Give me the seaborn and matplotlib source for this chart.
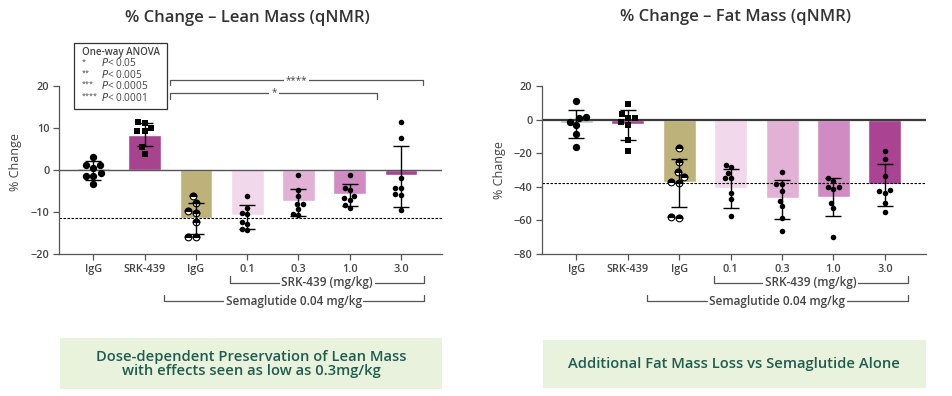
import numpy as np
import pandas as pd
import matplotlib
matplotlib.use("Agg")
import matplotlib.pyplot as plt
import seaborn as sns
from matplotlib.markers import MarkerStyle
from matplotlib.patches import Rectangle
from matplotlib.transforms import blended_transform_factory

# groups (unique keys) and what is printed under them
groups = ["veh_igg", "srk439", "sema_igg", "sema_srk_0.1", "sema_srk_0.3", "sema_srk_1.0", "sema_srk_3.0"]
tick_labels = ["IgG", "SRK-439", "IgG", "0.1", "0.3", "1.0", "3.0"]
bar_colors = ["#b9c9c1", "#a8448f", "#bdb37a", "#f1d9eb", "#e2b1d5", "#d08bc2", "#aa4392"]

# Lean mass, % change
lean_mean = [0.4, 8.4, -11.4, -10.8, -7.3, -5.6, -1.3]
lean_err_hi = [2.2, 11.1, -7.9, -8.4, -4.6, -3.4, 5.6]
lean_err_lo = [-2.4, 5.8, -15.2, -14.1, -11.0, -8.6, -8.8]
lean_pts_veh_igg = [3.1, 1.2, 1.2, 0.5, -0.8, -1.4, -1.4, -3.4]
lean_pts_srk439 = [11.5, 11.1, 9.9, 9.4, 9.3, 5.4, 3.9]
lean_pts_sema_igg = [-6.1, -7.8, -9.8, -10.2, -12.5, -15.9, -15.9]
lean_pts_srk_01 = [-6.2, -9.0, -10.2, -10.5, -12.5, -12.9, -14.1, -14.4]
lean_pts_srk_03 = [-1.1, -4.8, -6.2, -8.1, -8.1, -9.4, -10.5, -10.8]
lean_pts_srk_10 = [-1.1, -4.2, -4.8, -6.2, -6.7, -7.1, -8.4, -9.0]
lean_pts_srk_30 = [11.5, 7.7, -1.8, -4.2, -4.4, -5.7, -5.9, -9.5]
lean_ref = -11.5

# Fat mass, % change
fat_mean = [-1.9, -2.4, -37.4, -40.6, -46.5, -46.0, -38.3]
fat_err_hi = [5.7, 5.6, -23.2, -29.3, -35.7, -34.7, -26.4]
fat_err_lo = [-11.2, -11.9, -51.8, -52.7, -58.9, -57.4, -51.2]
fat_pts_veh_igg = [11.0, 1.8, 0.8, -1.2, -3.4, -8.7, -16.5]
fat_pts_srk439 = [9.5, 3.1, 1.1, 1.0, -1.3, -3.3, -12.2, -18.6]
fat_pts_sema_igg = [-16.9, -25.0, -31.1, -34.0, -37.0, -37.8, -57.8, -58.4]
fat_pts_srk_01 = [-26.9, -28.5, -31.6, -34.6, -34.6, -43.6, -47.5, -57.4]
fat_pts_srk_03 = [-31.0, -38.1, -38.1, -42.7, -48.3, -51.3, -58.3, -66.4]
fat_pts_srk_10 = [-35.0, -36.4, -40.0, -40.0, -41.4, -49.9, -52.9, -69.8]
fat_pts_srk_30 = [-18.6, -23.2, -33.6, -42.0, -42.4, -43.5, -49.4, -54.9]
fat_ref = -37.5

lean_ticks = [-20, -10, 0, 10, 20]
fat_ticks = [-80, -60, -40, -20, 0, 20]

GREY = "#555555"
TXT = "#444444"

sns.set_theme(style="ticks")
plt.rcParams["font.family"] = ["Open Sans", "DejaVu Sans"]


def long_points(point_lists):
    rows = [(g, v) for g, vals in zip(groups, point_lists) for v in vals]
    return pd.DataFrame(rows, columns=["group", "value"])


def draw_panel(ax, means, err_hi, err_lo, point_lists, ref, yticks, zero_lw, zero_color):
    bars = pd.DataFrame({"group": groups, "value": means})
    sns.barplot(data=bars, x="group", y="value", hue="group", order=groups,
                palette=dict(zip(groups, bar_colors)), width=0.64, saturation=1,
                errorbar=None, legend=False, ax=ax, zorder=1)

    pts = long_points(point_lists)
    common = dict(x="group", y="value", order=groups, ax=ax, zorder=3)
    sns.swarmplot(data=pts[pts.group == groups[0]], marker="o", size=5.3,
                  color="black", linewidth=0, **common)
    sns.swarmplot(data=pts[pts.group == groups[1]], marker="s", size=5.0,
                  color="black", linewidth=0, **common)
    # half filled circles for semaglutide + IgG
    sema = pts[pts.group == groups[2]]
    sns.swarmplot(data=sema, marker="o", size=4.8, color="white",
                  edgecolor="black", linewidth=0.8, **common)
    sns.swarmplot(data=sema, marker=MarkerStyle("o", fillstyle="top"), size=4.8,
                  color="black", linewidth=0.8, edgecolor="black", **common)
    sns.swarmplot(data=pts[pts.group.isin(groups[3:])], marker="o", size=4.0,
                  color="black", linewidth=0, **common)

    x = np.arange(len(groups))
    m = np.array(means)
    ax.errorbar(x, m, yerr=[m - np.array(err_lo), np.array(err_hi) - m], fmt="none",
                ecolor="black", elinewidth=1, capsize=5.5, capthick=1, zorder=4)

    ax.axhline(0, color=zero_color, lw=zero_lw, zorder=2)
    ax.axhline(ref, color="black", lw=0.8, ls=(0, (2.2, 1.4)), zorder=2.5)

    ax.set_xlim(-0.67, 6.8)
    ax.set_ylim(yticks[0], yticks[-1])
    ax.set_yticks(yticks)
    ax.set_xticks(x)
    ax.set_xticklabels(tick_labels)
    ax.set_xlabel("")
    ax.set_ylabel("% Change", fontsize=9, color=TXT)
    ax.tick_params(axis="both", labelsize=7.8, labelcolor=TXT, color=GREY,
                   length=4, width=0.9, pad=3)
    for lab in ax.get_xticklabels() + ax.get_yticklabels():
        lab.set_fontweight("semibold")
    sns.despine(ax=ax)
    for s in ["left", "bottom"]:
        ax.spines[s].set_color(GREY)
        ax.spines[s].set_linewidth(0.9)


def bracket_below(ax, x0, x1, y, tick, label):
    tr = blended_transform_factory(ax.transData, ax.transAxes)
    ax.plot([x0, x0, x1, x1], [y + tick, y, y, y + tick], transform=tr,
            clip_on=False, color=GREY, lw=0.9)
    ax.text((x0 + x1) / 2, y, label, transform=tr, ha="center", va="center",
            fontsize=8.5, color=TXT, fontweight="semibold",
            bbox=dict(fc="white", ec="none", pad=1.2))


def sig_bracket(ax, x0, x1, y, drop, label):
    ax.plot([x0, x0, x1, x1], [y - drop, y, y, y - drop], clip_on=False,
            color=GREY, lw=0.9)
    ax.text((x0 + x1) / 2, y, label, ha="center", va="center", fontsize=7,
            color=TXT, bbox=dict(fc="white", ec="none", pad=1.5))


fig = plt.figure(figsize=(9.52, 3.96), dpi=100)
ax1 = fig.add_axes([0.062, 0.3586, 0.4023, 0.4242])
ax2 = fig.add_axes([0.5693, 0.3586, 0.4034, 0.4242])

draw_panel(ax1, lean_mean, lean_err_hi, lean_err_lo,
           [lean_pts_veh_igg, lean_pts_srk439, lean_pts_sema_igg, lean_pts_srk_01,
            lean_pts_srk_03, lean_pts_srk_10, lean_pts_srk_30],
           lean_ref, lean_ticks, 1.0, GREY)
draw_panel(ax2, fat_mean, fat_err_hi, fat_err_lo,
           [fat_pts_veh_igg, fat_pts_srk439, fat_pts_sema_igg, fat_pts_srk_01,
            fat_pts_srk_03, fat_pts_srk_10, fat_pts_srk_30],
           fat_ref, fat_ticks, 1.6, "#3a3a3a")

ax1.yaxis.set_label_coords(-0.097, 0.55)
ax2.yaxis.set_label_coords(-0.094, 0.5)

# group brackets under the x axis
for ax in (ax1, ax2):
    bracket_below(ax, 2.67, 6.45, -0.171, 0.04, "SRK-439 (mg/kg)")
    bracket_below(ax, 1.37, 6.45, -0.28, 0.036, "Semaglutide 0.04 mg/kg")

# ANOVA comparisons on the lean panel
sig_bracket(ax1, 1.5, 6.42, 21.4, 1.2, "****")
sig_bracket(ax1, 1.5, 5.54, 18.4, 1.5, "*")

# ANOVA key box
fig.patches.append(Rectangle((74 / 952, 1 - 109 / 396), 93 / 952, 66 / 396,
                             transform=fig.transFigure, fc="white", ec="#333333",
                             lw=0.9, zorder=5))
fig.text(81.5 / 952, 1 - 52.5 / 396, "One-way ANOVA", fontsize=7, color=TXT,
         fontweight="semibold", va="center", zorder=6)
stars = ["*", "**", "***", "****"]
pvals = ["0.05", "0.005", "0.0005", "0.0001"]
for i, (s, p) in enumerate(zip(stars, pvals)):
    yy = 1 - (63.5 + 11.4 * i) / 396
    fig.text(81.5 / 952, yy + 0.004, s, fontsize=5.2, color=TXT, va="center", zorder=6)
    fig.text(101 / 952, yy, f"$P$< {p}", fontsize=7.3, color=TXT, va="center", zorder=6)

# titles
fig.text(247 / 952, 1 - 18 / 396, "% Change \u2013 Lean Mass (qNMR)", ha="center",
         va="center", fontsize=12, fontweight="semibold", color="#333333")
fig.text(735 / 952, 1 - 17 / 396, "% Change \u2013 Fat Mass (qNMR)", ha="center",
         va="center", fontsize=12, fontweight="semibold", color="#333333")

# takeaway boxes
GREEN_BG = "#e8f2dc"
GREEN_TXT = "#1f5c4f"
fig.patches.append(Rectangle((60 / 952, 1 - 389 / 396), 382 / 952, 51 / 396,
                             transform=fig.transFigure, fc=GREEN_BG, ec="none"))
fig.patches.append(Rectangle((543 / 952, 1 - 388 / 396), 383 / 952, 48 / 396,
                             transform=fig.transFigure, fc=GREEN_BG, ec="none"))
fig.text(251 / 952, 1 - 364 / 396,
         "Dose-dependent Preservation of Lean Mass\nwith effects seen as low as 0.3mg/kg",
         ha="center", va="center", fontsize=10.6, fontweight="semibold",
         color=GREEN_TXT, linespacing=0.95)
fig.text(734 / 952, 1 - 364 / 396, "Additional Fat Mass Loss vs Semaglutide Alone",
         ha="center", va="center", fontsize=10.6, fontweight="semibold", color=GREEN_TXT)

fig.savefig("out.png", dpi=100)
